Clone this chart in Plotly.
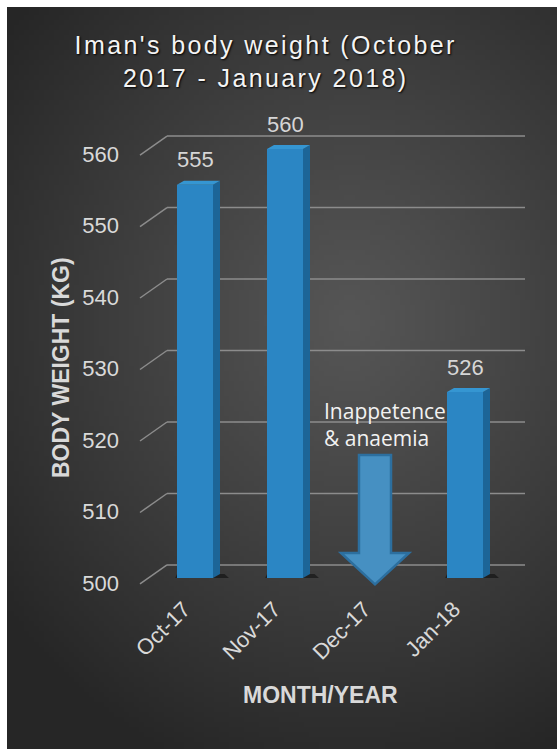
import zlib, struct, base64
import numpy as np
import plotly.graph_objects as go

# ---- data ----
months = ["Oct-17", "Nov-17", "Dec-17", "Jan-18"]
weights = [555, 560, None, 526]
y_ticks = [500, 510, 520, 530, 540, 550, 560]
title_text = "Iman's body weight (October<br>2017 - January 2018)"
x_title = "MONTH/YEAR"
y_title = "BODY WEIGHT (KG)"
note_text = "Inappetence<br>& anaemia"
note_month = "Dec-17"

# ---- geometry ----
W, H = 557, 749
ML, MR, MT, MB = 130, 27, 120, 149
PW, PH = W - ML - MR, H - MT - MB
X_RANGE = [-0.7222, 3.7222]
Y_RANGE = [496.92, 564.06]
PX_PER_KG = PH / (Y_RANGE[1] - Y_RANGE[0])
PX_PER_CAT = PW / (X_RANGE[1] - X_RANGE[0])
BASE = 500
BAR_W = 0.4
DEPTH_X = 7 / PX_PER_CAT
DEPTH_Y = 4 / PX_PER_KG


def png_uri(arr):
    h, w, _ = arr.shape
    raw = b"".join(b"\x00" + arr[r].tobytes() for r in range(h))

    def chunk(t, d):
        return struct.pack(">I", len(d)) + t + d + struct.pack(">I", zlib.crc32(t + d) & 0xFFFFFFFF)

    png = (b"\x89PNG\r\n\x1a\n" + chunk(b"IHDR", struct.pack(">IIBBBBB", w, h, 8, 2, 0, 0, 0))
           + chunk(b"IDAT", zlib.compress(raw, 9)) + chunk(b"IEND", b""))
    return "data:image/png;base64," + base64.b64encode(png).decode()


# radial gradient background panel (x 7..557, y 7..749)
gw, gh = 110, 148
yy, xx = np.mgrid[0:gh, 0:gw]
cx, cy = 0.62 * gw, 0.42 * gh
d = np.sqrt(((xx - cx) / (0.8 * gw)) ** 2 + ((yy - cy) / (0.65 * gh)) ** 2)
t = np.clip(d, 0, 1) ** 1.1
val = (86 * (1 - t) + 38 * t).astype(np.uint8)
bg = np.stack([val, val, val], axis=-1)
bg_uri = png_uri(np.ascontiguousarray(bg))


def px_to_paper_x(px):
    return (px - ML) / PW


def px_to_paper_y(py):
    return 1 - (py - MT) / PH


def cat_x(px):
    return X_RANGE[0] + (px - ML) / PX_PER_CAT


fig = go.Figure()

idx = [i for i, v in enumerate(weights) if v is not None]
bar_x = [months[i] for i in idx]
bar_v = [weights[i] for i in idx]

fig.add_trace(go.Bar(
    x=bar_x, y=[v - BASE for v in bar_v], base=BASE, width=BAR_W,
    marker=dict(color="#2b86c4", line=dict(width=0)),
    hoverinfo="skip", showlegend=False,
))

shapes = []
# back-wall gridlines with perspective diagonal
for tv in y_ticks:
    shapes.append(dict(type="line", xref="x", yref="y", ysizemode="pixel", yanchor=tv,
                       x0=cat_x(167), x1=cat_x(525), y0=13, y1=13,
                       line=dict(color="#8c8c8c", width=1.5), layer="below"))
    shapes.append(dict(type="line", xref="x", yref="y", ysizemode="pixel", yanchor=tv,
                       x0=cat_x(140), x1=cat_x(167), y0=-6, y1=13,
                       line=dict(color="#8c8c8c", width=1.5), layer="below"))

# 3D faces of bars
for i, v in zip(idx, bar_v):
    xl, xr = i - BAR_W / 2, i + BAR_W / 2
    shapes.append(dict(type="path", xref="x", yref="y",
                       path=f"M {xl - 0.02},{BASE} L {xr + DEPTH_X + 0.1},{BASE} L {xr + DEPTH_X + 0.05},{BASE + DEPTH_Y} L {xl},{BASE + DEPTH_Y} Z",
                       fillcolor="rgba(0,0,0,0.45)", line=dict(width=0), layer="below"))
    shapes.append(dict(type="path", xref="x", yref="y",
                       path=f"M {xr},{BASE} L {xr + DEPTH_X},{BASE + DEPTH_Y} L {xr + DEPTH_X},{v + DEPTH_Y} L {xr},{v} Z",
                       fillcolor="#1c6598", line=dict(width=0), layer="above"))
    shapes.append(dict(type="path", xref="x", yref="y",
                       path=f"M {xl},{v} L {xr},{v} L {xr + DEPTH_X},{v + DEPTH_Y} L {xl + DEPTH_X},{v + DEPTH_Y} Z",
                       fillcolor="#3596d2", line=dict(width=0), layer="above"))

# arrow for December
ai = months.index(note_month)
shaft, head = 16 / PX_PER_CAT, 34 / PX_PER_CAT
top_v, neck_v, tip_v = 517.2, 503.5, 499.1
shapes.append(dict(type="path", xref="x", yref="y",
                   path=(f"M {ai - shaft},{top_v} L {ai + shaft},{top_v} L {ai + shaft},{neck_v} "
                         f"L {ai + head},{neck_v} L {ai},{tip_v} L {ai - head},{neck_v} "
                         f"L {ai - shaft},{neck_v} Z"),
                   fillcolor="#4690c2", line=dict(color="#2c6f9f", width=2.5), layer="above"))

annotations = []
for i, v in zip(idx, bar_v):
    annotations.append(dict(x=months[i], y=v, xref="x", yref="y", text=str(v), showarrow=False,
                            yshift=25, font=dict(family="Liberation Sans, Arial", size=22, color="#d6d6d6")))

annotations.append(dict(x=cat_x(322), y=517.2, xref="x", yref="y", text=note_text, showarrow=False,
                        xanchor="left", yanchor="bottom", align="left", yshift=1,
                        font=dict(family="Open Sans", size=21, color="#f2f2f2")))

annotations.append(dict(x=px_to_paper_x(265), y=px_to_paper_y(62), xref="paper", yref="paper",
                        text=title_text, showarrow=False, xanchor="center", yanchor="middle",
                        font=dict(family="Liberation Sans, Arial", size=25, color="#f4f4f4",
                                  shadow="1px 1px 2px #000")))
annotations.append(dict(x=px_to_paper_x(320), y=px_to_paper_y(695), xref="paper", yref="paper",
                        text=f"<b>{x_title}</b>", showarrow=False, xanchor="center", yanchor="middle",
                        font=dict(family="Liberation Sans, Arial", size=23, color="#d9d9d9")))
annotations.append(dict(x=px_to_paper_x(61), y=px_to_paper_y(368), xref="paper", yref="paper",
                        text=f"<b>{y_title}</b>", showarrow=False, textangle=-90,
                        xanchor="center", yanchor="middle",
                        font=dict(family="Liberation Sans, Arial", size=23, color="#d9d9d9")))

fig.update_layout(
    width=W, height=H,
    margin=dict(l=ML, r=MR, t=MT, b=MB, pad=0),
    paper_bgcolor="white", plot_bgcolor="rgba(0,0,0,0)",
    images=[dict(source=bg_uri, xref="paper", yref="paper",
                 x=px_to_paper_x(7), y=px_to_paper_y(7),
                 sizex=(W - 7) / PW, sizey=(H - 7) / PH,
                 xanchor="left", yanchor="top", sizing="stretch", layer="below")],
    shapes=shapes, annotations=annotations,
    xaxis=dict(type="category", categoryorder="array", categoryarray=months, range=X_RANGE,
               showgrid=False, zeroline=False, showline=False, ticks="",
               tickangle=-45, ticklabelshift=-11, ticklabelstandoff=-9,
               tickfont=dict(family="Liberation Sans, Arial", size=22, color="#d9d9d9"),
               fixedrange=True),
    yaxis=dict(range=Y_RANGE, tickvals=y_ticks, showgrid=False, zeroline=False, showline=False,
               ticks="", ticklabelshift=5, ticklabelstandoff=10,
               tickfont=dict(family="Liberation Sans, Arial", size=22, color="#d9d9d9"),
               fixedrange=True),
    bargap=0.6,
)

post = """
document.querySelectorAll('.annotation-text').forEach(function(e){
  if (e.textContent.indexOf("Iman") === 0) { e.style.letterSpacing = '2.4px'; }
});
"""
fig.write_html("out.html", post_script=post)
